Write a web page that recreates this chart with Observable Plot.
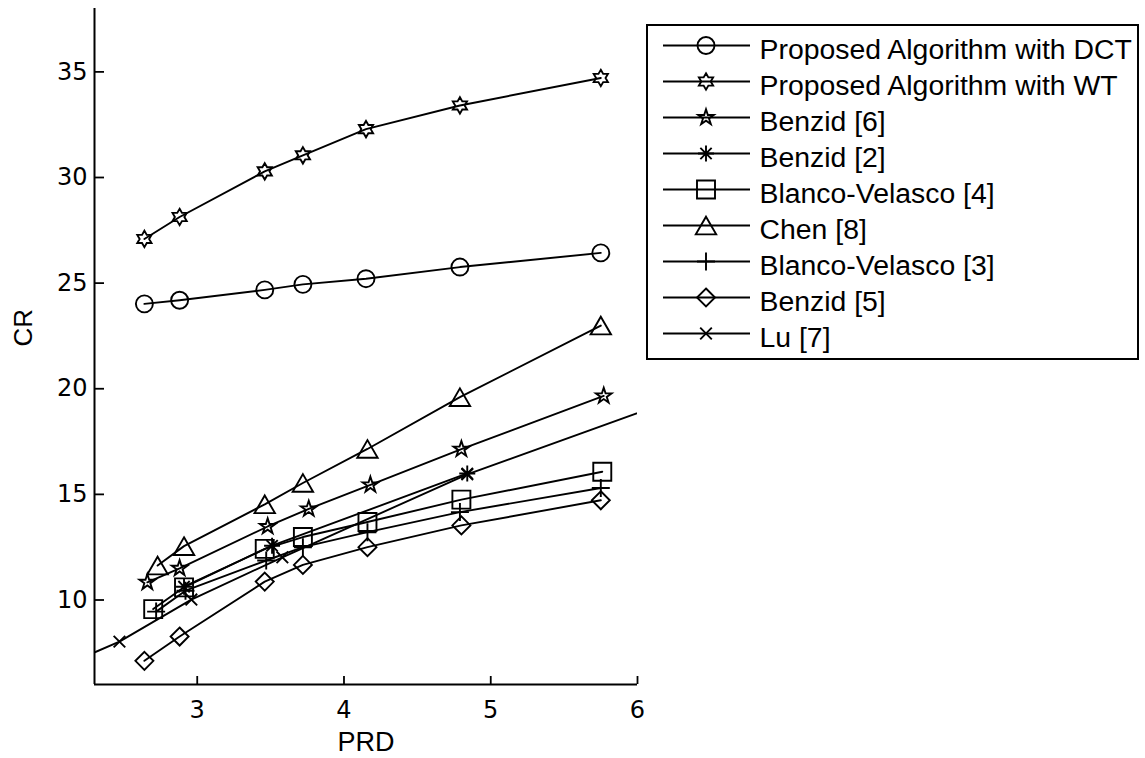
<!DOCTYPE html>
<html><head><meta charset="utf-8">
<script src="https://cdn.jsdelivr.net/npm/d3@7"></script>
<script src="https://cdn.jsdelivr.net/npm/@observablehq/plot@0.6"></script>
<style>
body{margin:0;background:#fff;}
#wrap{position:relative;width:1145px;height:758px;}
#legend{position:absolute;left:646px;top:24px;width:493px;height:336px;box-sizing:border-box;border:2px solid #000;background:#fff;}
#legend svg{display:block;}
</style></head><body><div id="wrap"></div>
<script>
// ---- data ----
const xDomain = [2.3, 6];
const yDomain = [6, 38];
const xTicks = [3, 4, 5, 6];
const yTicks = [10, 15, 20, 25, 30, 35];

const seriesNames = ["Proposed Algorithm with DCT","Proposed Algorithm with WT","Benzid [6]","Benzid [2]","Blanco-Velasco [4]","Chen [8]","Blanco-Velasco [3]","Benzid [5]","Lu [7]"];

const prdDCT = [2.64, 2.88, 3.46, 3.72, 4.15, 4.79, 5.75];
const crDCT  = [24.02, 24.19, 24.68, 24.94, 25.21, 25.76, 26.43];
const prdWT  = [2.64, 2.88, 3.46, 3.72, 4.15, 4.79, 5.75];
const crWT   = [27.09, 28.13, 30.29, 31.05, 32.29, 33.41, 34.71];
const prdB6  = [2.66, 2.88, 3.48, 3.76, 4.18, 4.80, 5.77];
const crB6   = [10.84, 11.50, 13.48, 14.31, 15.45, 17.14, 19.66];
const prdB2  = [2.91, 3.51, 4.84];
const crB2   = [10.63, 12.57, 15.99];
const prdBV4 = [2.70, 2.91, 3.46, 3.72, 4.16, 4.80, 5.76];
const crBV4  = [9.57, 10.60, 12.42, 12.98, 13.69, 14.75, 16.07];
const prdC8  = [2.73, 2.91, 3.46, 3.72, 4.16, 4.79, 5.75];
const crC8   = [11.63, 12.55, 14.53, 15.54, 17.15, 19.60, 22.99];
const prdBV3 = [2.72, 2.92, 3.47, 3.72, 4.16, 4.79, 5.75];
const crBV3  = [9.45, 10.44, 11.87, 12.50, 13.21, 14.16, 15.30];
const prdB5  = [2.64, 2.88, 3.46, 3.72, 4.16, 4.80, 5.75];
const crB5   = [7.12, 8.27, 10.87, 11.66, 12.50, 13.53, 14.72];
const prdLu  = [2.20, 2.47, 2.96, 3.58, 4.84, 6.20];
const crLu   = [7.22, 8.03, 10.02, 12.02, 15.95, 19.35];

// ---- marker shapes (radius = sqrt(size/PI)) ----
const R = s => Math.sqrt(s / Math.PI);
const symCircle = {draw(c, s){const r=R(s); c.moveTo(r,0); c.arc(0,0,r,0,2*Math.PI);}};
const symSquare = {draw(c, s){const r=R(s); c.moveTo(-r,-r); c.lineTo(r,-r); c.lineTo(r,r); c.lineTo(-r,r); c.closePath();}};
const symTriangle = {draw(c, s){const r=R(s), h=r*0.866; c.moveTo(0,-h); c.lineTo(r,h); c.lineTo(-r,h); c.closePath();}};
const symDiamond = {draw(c, s){const r=R(s); c.moveTo(0,-r); c.lineTo(r,0); c.lineTo(0,r); c.lineTo(-r,0); c.closePath();}};
const symPlus = {draw(c, s){const r=R(s); c.moveTo(-r,0); c.lineTo(r,0); c.moveTo(0,-r); c.lineTo(0,r);}};
const symTimes = {draw(c, s){const r=R(s); c.moveTo(-r,-r); c.lineTo(r,r); c.moveTo(-r,r); c.lineTo(r,-r);}};
const symAsterisk = {draw(c, s){const r=R(s), d=r*Math.SQRT1_2; c.moveTo(-r,0); c.lineTo(r,0); c.moveTo(0,-r); c.lineTo(0,r); c.moveTo(-d,-d); c.lineTo(d,d); c.moveTo(-d,d); c.lineTo(d,-d);}};
function starPath(c, n, ro, ri){
  for (let i = 0; i < 2*n; i++){
    const a = Math.PI*i/n - Math.PI/2, rr = i%2 ? ri : ro;
    const x = rr*Math.cos(a), y = rr*Math.sin(a);
    i ? c.lineTo(x,y) : c.moveTo(x,y);
  }
  c.closePath();
}
const symPentagram = {draw(c, s){const r=R(s); starPath(c, 5, r, r*0.382);}};
const symHexagram = {draw(c, s){const r=R(s); starPath(c, 6, r, r/Math.sqrt(3));}};

const series = [
  {name: seriesNames[0], prd: prdDCT, cr: crDCT, symbol: symCircle,   r: 8.5},
  {name: seriesNames[1], prd: prdWT,  cr: crWT,  symbol: symHexagram, r: 8.2},
  {name: seriesNames[2], prd: prdB6,  cr: crB6,  symbol: symPentagram,r: 8.2},
  {name: seriesNames[3], prd: prdB2,  cr: crB2,  symbol: symAsterisk, r: 8},
  {name: seriesNames[4], prd: prdBV4, cr: crBV4, symbol: symSquare,   r: 9},
  {name: seriesNames[5], prd: prdC8,  cr: crC8,  symbol: symTriangle, r: 10.2},
  {name: seriesNames[6], prd: prdBV3, cr: crBV3, symbol: symPlus,     r: 9},
  {name: seriesNames[7], prd: prdB5,  cr: crB5,  symbol: symDiamond,  r: 9},
  {name: seriesNames[8], prd: prdLu,  cr: crLu,  symbol: symTimes,    r: 5.8}
];

const W = 1145, H = 758;
const mL = 94, mR = 508, mT = 8, mB = 74;
const plotW = W - mL - mR, plotH = H - mT - mB;
const SW = 1.9;

const marks = [];
for (const s of series) {
  const rows = s.prd.map((p, i) => ({prd: p, cr: s.cr[i]}));
  marks.push(Plot.line(rows, {x: "prd", y: "cr", stroke: "black", strokeWidth: SW, clip: true}));
  marks.push(Plot.dot(rows, {x: "prd", y: "cr", symbol: s.symbol, r: s.r, fill: "none", stroke: "black", strokeWidth: SW, clip: true}));
}

const chart = Plot.plot({
  width: W, height: H,
  marginLeft: mL, marginRight: mR, marginTop: mT, marginBottom: mB,
  x: {domain: xDomain},
  y: {domain: yDomain},
  style: {fontFamily: "DejaVu Sans", fontSize: "24px", background: "white", color: "black"},
  marks: [
    ...marks,
    Plot.ruleX([xDomain[0]], {stroke: "black", strokeWidth: 2}),
    Plot.ruleY([yDomain[0]], {stroke: "black", strokeWidth: 2}),
    Plot.tickY(yTicks, {y: d => d, stroke: "black", strokeWidth: 1.8, insetRight: plotW - 10}),
    Plot.tickX(xTicks, {x: d => d, stroke: "black", strokeWidth: 1.8, insetTop: plotH - 8}),
    Plot.axisX({ticks: xTicks, tickFormat: d => String(d), tickSize: 0, tickPadding: 16, label: null, fontSize: 24, fontFamily: "DejaVu Sans"}),
    Plot.axisY({ticks: yTicks, tickFormat: d => String(d), tickSize: 0, tickPadding: 7, label: null, fontSize: 24, fontFamily: "DejaVu Sans"}),
    Plot.text(["PRD"], {text: d => d, frameAnchor: "bottom", lineAnchor: "bottom", dy: 66, fontSize: 27, fontFamily: "Liberation Sans"}),
    Plot.text(["CR"], {text: d => d, frameAnchor: "left", lineAnchor: "middle", rotate: -90, dx: -71, fontSize: 26, fontFamily: "Liberation Sans"})
  ]
});
document.getElementById("wrap").appendChild(chart);

// ---- legend ----
const lg = d3.select("#wrap").append("div").attr("id", "legend");
const lsvg = lg.append("svg").attr("width", 489).attr("height", 332);
series.forEach((s, i) => {
  const yl = 19.5 + 36 * i, yt = 32.8 + 36 * i;
  lsvg.append("line").attr("x1", 15).attr("x2", 102).attr("y1", yl).attr("y2", yl)
    .attr("stroke", "black").attr("stroke-width", SW);
  lsvg.append("path").attr("transform", `translate(58,${yl})`)
    .attr("d", d3.symbol(s.symbol, Math.PI * s.r * s.r)())
    .attr("fill", "none").attr("stroke", "black").attr("stroke-width", SW);
  lsvg.append("text").attr("x", 111.5).attr("y", yt).text(s.name)
    .attr("font-family", "Liberation Sans, Arial, sans-serif").attr("font-size", 28.4).attr("fill", "black");
});
</script></body></html>
